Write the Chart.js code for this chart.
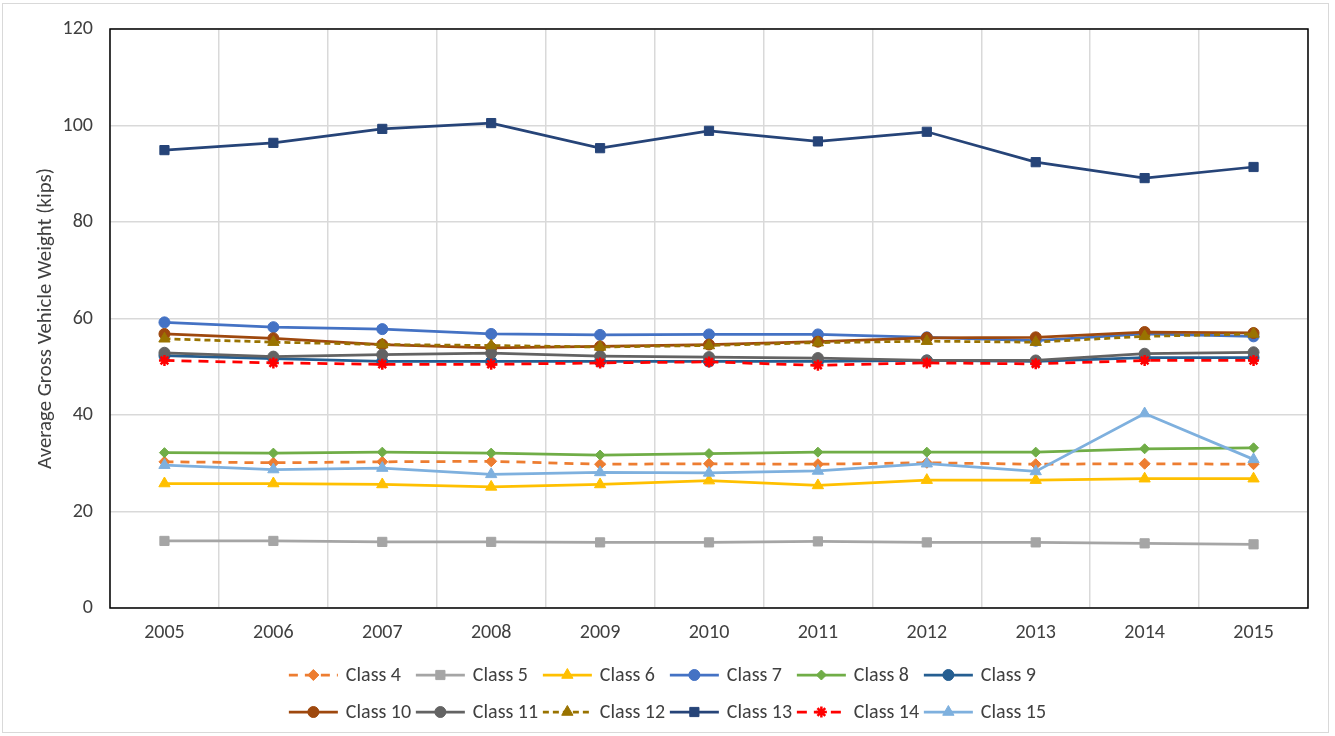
<!DOCTYPE html>
<html>
<head>
<meta charset="utf-8">
<script src="https://cdn.jsdelivr.net/npm/chart.js@4"></script>
<style>
  html, body { margin: 0; padding: 0; background: #ffffff; }
  #wrap { width: 1335px; height: 736px; position: relative; }
</style>
</head>
<body>
<div id="wrap"><canvas id="c" width="1335" height="736"></canvas></div>
<script>
// Average gross vehicle weight (kips) by FHWA vehicle class, 2005-2015
const years = ['2005', '2006', '2007', '2008', '2009', '2010', '2011', '2012', '2013', '2014', '2015'];
const seriesNames = ['Class 4', 'Class 5', 'Class 6', 'Class 7', 'Class 8', 'Class 9',
                     'Class 10', 'Class 11', 'Class 12', 'Class 13', 'Class 14', 'Class 15'];

const class4  = [30.3, 30.1, 30.3, 30.4, 29.8, 29.9, 29.8, 30.1, 29.8, 29.9, 29.8];
const class5  = [13.9, 13.9, 13.7, 13.7, 13.6, 13.6, 13.8, 13.6, 13.6, 13.4, 13.2];
const class6  = [25.8, 25.8, 25.6, 25.1, 25.6, 26.4, 25.4, 26.5, 26.5, 26.8, 26.8];
const class7  = [59.2, 58.2, 57.8, 56.8, 56.6, 56.7, 56.7, 56.1, 55.4, 56.8, 56.3];
const class8  = [32.2, 32.1, 32.3, 32.1, 31.7, 32.0, 32.3, 32.3, 32.3, 33.0, 33.2];
const class9  = [52.3, 51.7, 51.1, 51.1, 51.1, 51.1, 51.1, 51.3, 51.1, 51.9, 51.9];
const class10 = [56.8, 55.9, 54.6, 53.9, 54.2, 54.6, 55.2, 56.0, 56.1, 57.2, 57.0];
const class11 = [52.9, 52.1, 52.5, 52.8, 52.2, 52.0, 51.8, 51.3, 51.3, 52.7, 53.0];
const class12 = [55.8, 55.1, 54.6, 54.4, 54.1, 54.4, 55.0, 55.3, 55.1, 56.3, 56.8];
const class13 = [94.9, 96.4, 99.3, 100.5, 95.3, 98.9, 96.7, 98.7, 92.4, 89.1, 91.4];
const class14 = [51.3, 50.8, 50.5, 50.5, 50.8, 51.0, 50.3, 50.8, 50.6, 51.3, 51.3];
const class15 = [29.6, 28.7, 29.0, 27.7, 28.1, 28.0, 28.4, 29.9, 28.3, 40.3, 30.8];

const yTicks = [0, 20, 40, 60, 80, 100, 120];
const yTitle = 'Average Gross Vehicle Weight (kips)';

const FONT = 'Carlito, Lato, "Liberation Sans", sans-serif';
const TEXT = '#404040';

// per-series look: colour, dash, marker
const styles = [
  { color: '#ED7D31', dash: [9, 7],  point: 'rectRot',  r: 5.5 },
  { color: '#A5A5A5', dash: [],      point: 'rect',     r: 6.5 },
  { color: '#FFC000', dash: [],      point: 'triangle', r: 6.5 },
  { color: '#4472C4', dash: [],      point: 'circle',   r: 5.5 },
  { color: '#70AD47', dash: [],      point: 'rectRot',  r: 5   },
  { color: '#255E91', dash: [],      point: 'circle',   r: 5.5 },
  { color: '#9E480E', dash: [],      point: 'circle',   r: 5.5 },
  { color: '#636363', dash: [],      point: 'circle',   r: 5.5 },
  { color: '#997300', dash: [6, 4],  point: 'triangle', r: 6.5 },
  { color: '#264478', dash: [],      point: 'rect',     r: 6.5 },
  { color: '#FF0000', dash: [10, 7], point: 'star',     r: 5.5 },
  { color: '#7EB0DE', dash: [],      point: 'triangle', r: 6.5 }
];
const seriesData = [class4, class5, class6, class7, class8, class9,
                    class10, class11, class12, class13, class14, class15];

const datasets = seriesData.map((d, i) => ({
  label: seriesNames[i],
  data: d,
  borderColor: styles[i].color,
  backgroundColor: styles[i].color,
  borderWidth: 2.75,
  borderDash: styles[i].dash,
  pointStyle: styles[i].point,
  pointRadius: styles[i].r,
  pointBorderWidth: styles[i].point === 'star' ? 2.5 : 1,
  pointBackgroundColor: styles[i].color,
  pointBorderColor: styles[i].color,
  tension: 0,
  order: -i   // later classes drawn on top
}));

// frame around the plot + outer chart border
const framePlugin = {
  id: 'frame',
  beforeDraw(chart) {
    const ctx = chart.ctx;
    ctx.save();
    ctx.fillStyle = '#ffffff';
    ctx.fillRect(0, 0, chart.width, chart.height);
    ctx.strokeStyle = '#D9D9D9';
    ctx.lineWidth = 1;
    ctx.strokeRect(2.5, 3.5, 1326, 729);
    ctx.restore();
  },
  afterDatasetsDraw(chart) {
    const { ctx, chartArea: a } = chart;
    ctx.save();
    ctx.strokeStyle = '#000000';
    ctx.lineWidth = 1.5;
    ctx.strokeRect(a.left, a.top, a.right - a.left, a.bottom - a.top);
    ctx.restore();
  }
};

// two-row legend with line samples and markers, centred under the chart
const legendPlugin = {
  id: 'lineLegend',
  afterDraw(chart) {
    const ctx = chart.ctx;
    const colW = 127, rowY = [675, 712], sample = 49, gap = 8;
    ctx.save();
    ctx.font = '20px ' + FONT;
    const lastW = ctx.measureText(seriesNames[11]).width;
    const totalW = 5 * colW + sample + gap + lastW;
    const startX = chart.width / 2 - totalW / 2;
    chart.data.datasets.forEach((ds, i) => {
      const col = i % 6, row = Math.floor(i / 6);
      const x = startX + col * colW, y = rowY[row];
      ctx.strokeStyle = ds.borderColor;
      ctx.lineWidth = 2.75;
      ctx.setLineDash(ds.borderDash || []);
      ctx.beginPath();
      ctx.moveTo(x, y);
      ctx.lineTo(x + sample, y);
      ctx.stroke();
      ctx.setLineDash([]);
      ctx.fillStyle = ds.backgroundColor;
      ctx.lineWidth = ds.pointBorderWidth;
      Chart.helpers.drawPoint(ctx, {
        pointStyle: ds.pointStyle,
        radius: ds.pointRadius,
        rotation: 0,
        borderWidth: ds.pointBorderWidth
      }, x + sample / 2, y);
      ctx.fillStyle = TEXT;
      ctx.font = '20px ' + FONT;
      ctx.textBaseline = 'middle';
      ctx.textAlign = 'left';
      ctx.fillText(ds.label, x + sample + gap, y + 1);
    });
    ctx.restore();
  }
};

new Chart(document.getElementById('c'), {
  type: 'line',
  data: { labels: years, datasets },
  options: {
    responsive: false,
    animation: false,
    layout: { padding: { left: 0, right: 27, top: 28, bottom: 0 } },
    plugins: {
      legend: { display: false },
      tooltip: { enabled: false }
    },
    scales: {
      x: {
        offset: true,
        grid: { offset: true, color: '#D9D9D9', lineWidth: 1.5, drawTicks: false },
        border: { display: false },
        ticks: { color: TEXT, font: { family: FONT, size: 20 }, padding: 13, maxRotation: 0 },
        afterFit(scale) { scale.height = 128; }
      },
      y: {
        min: 0, max: 120,
        afterBuildTicks(scale) { scale.ticks = yTicks.map(v => ({ value: v })); },
        grid: { color: '#D9D9D9', lineWidth: 1.5, drawTicks: false },
        border: { display: false },
        ticks: { color: TEXT, font: { family: FONT, size: 20 }, padding: 17 },
        title: {
          display: true, text: yTitle, color: TEXT,
          font: { family: FONT, size: 20.8 }, padding: { top: 33, bottom: 0 }
        },
        afterFit(scale) { scale.width = 110; }
      }
    }
  },
  plugins: [framePlugin, legendPlugin]
});
</script>
</body>
</html>
